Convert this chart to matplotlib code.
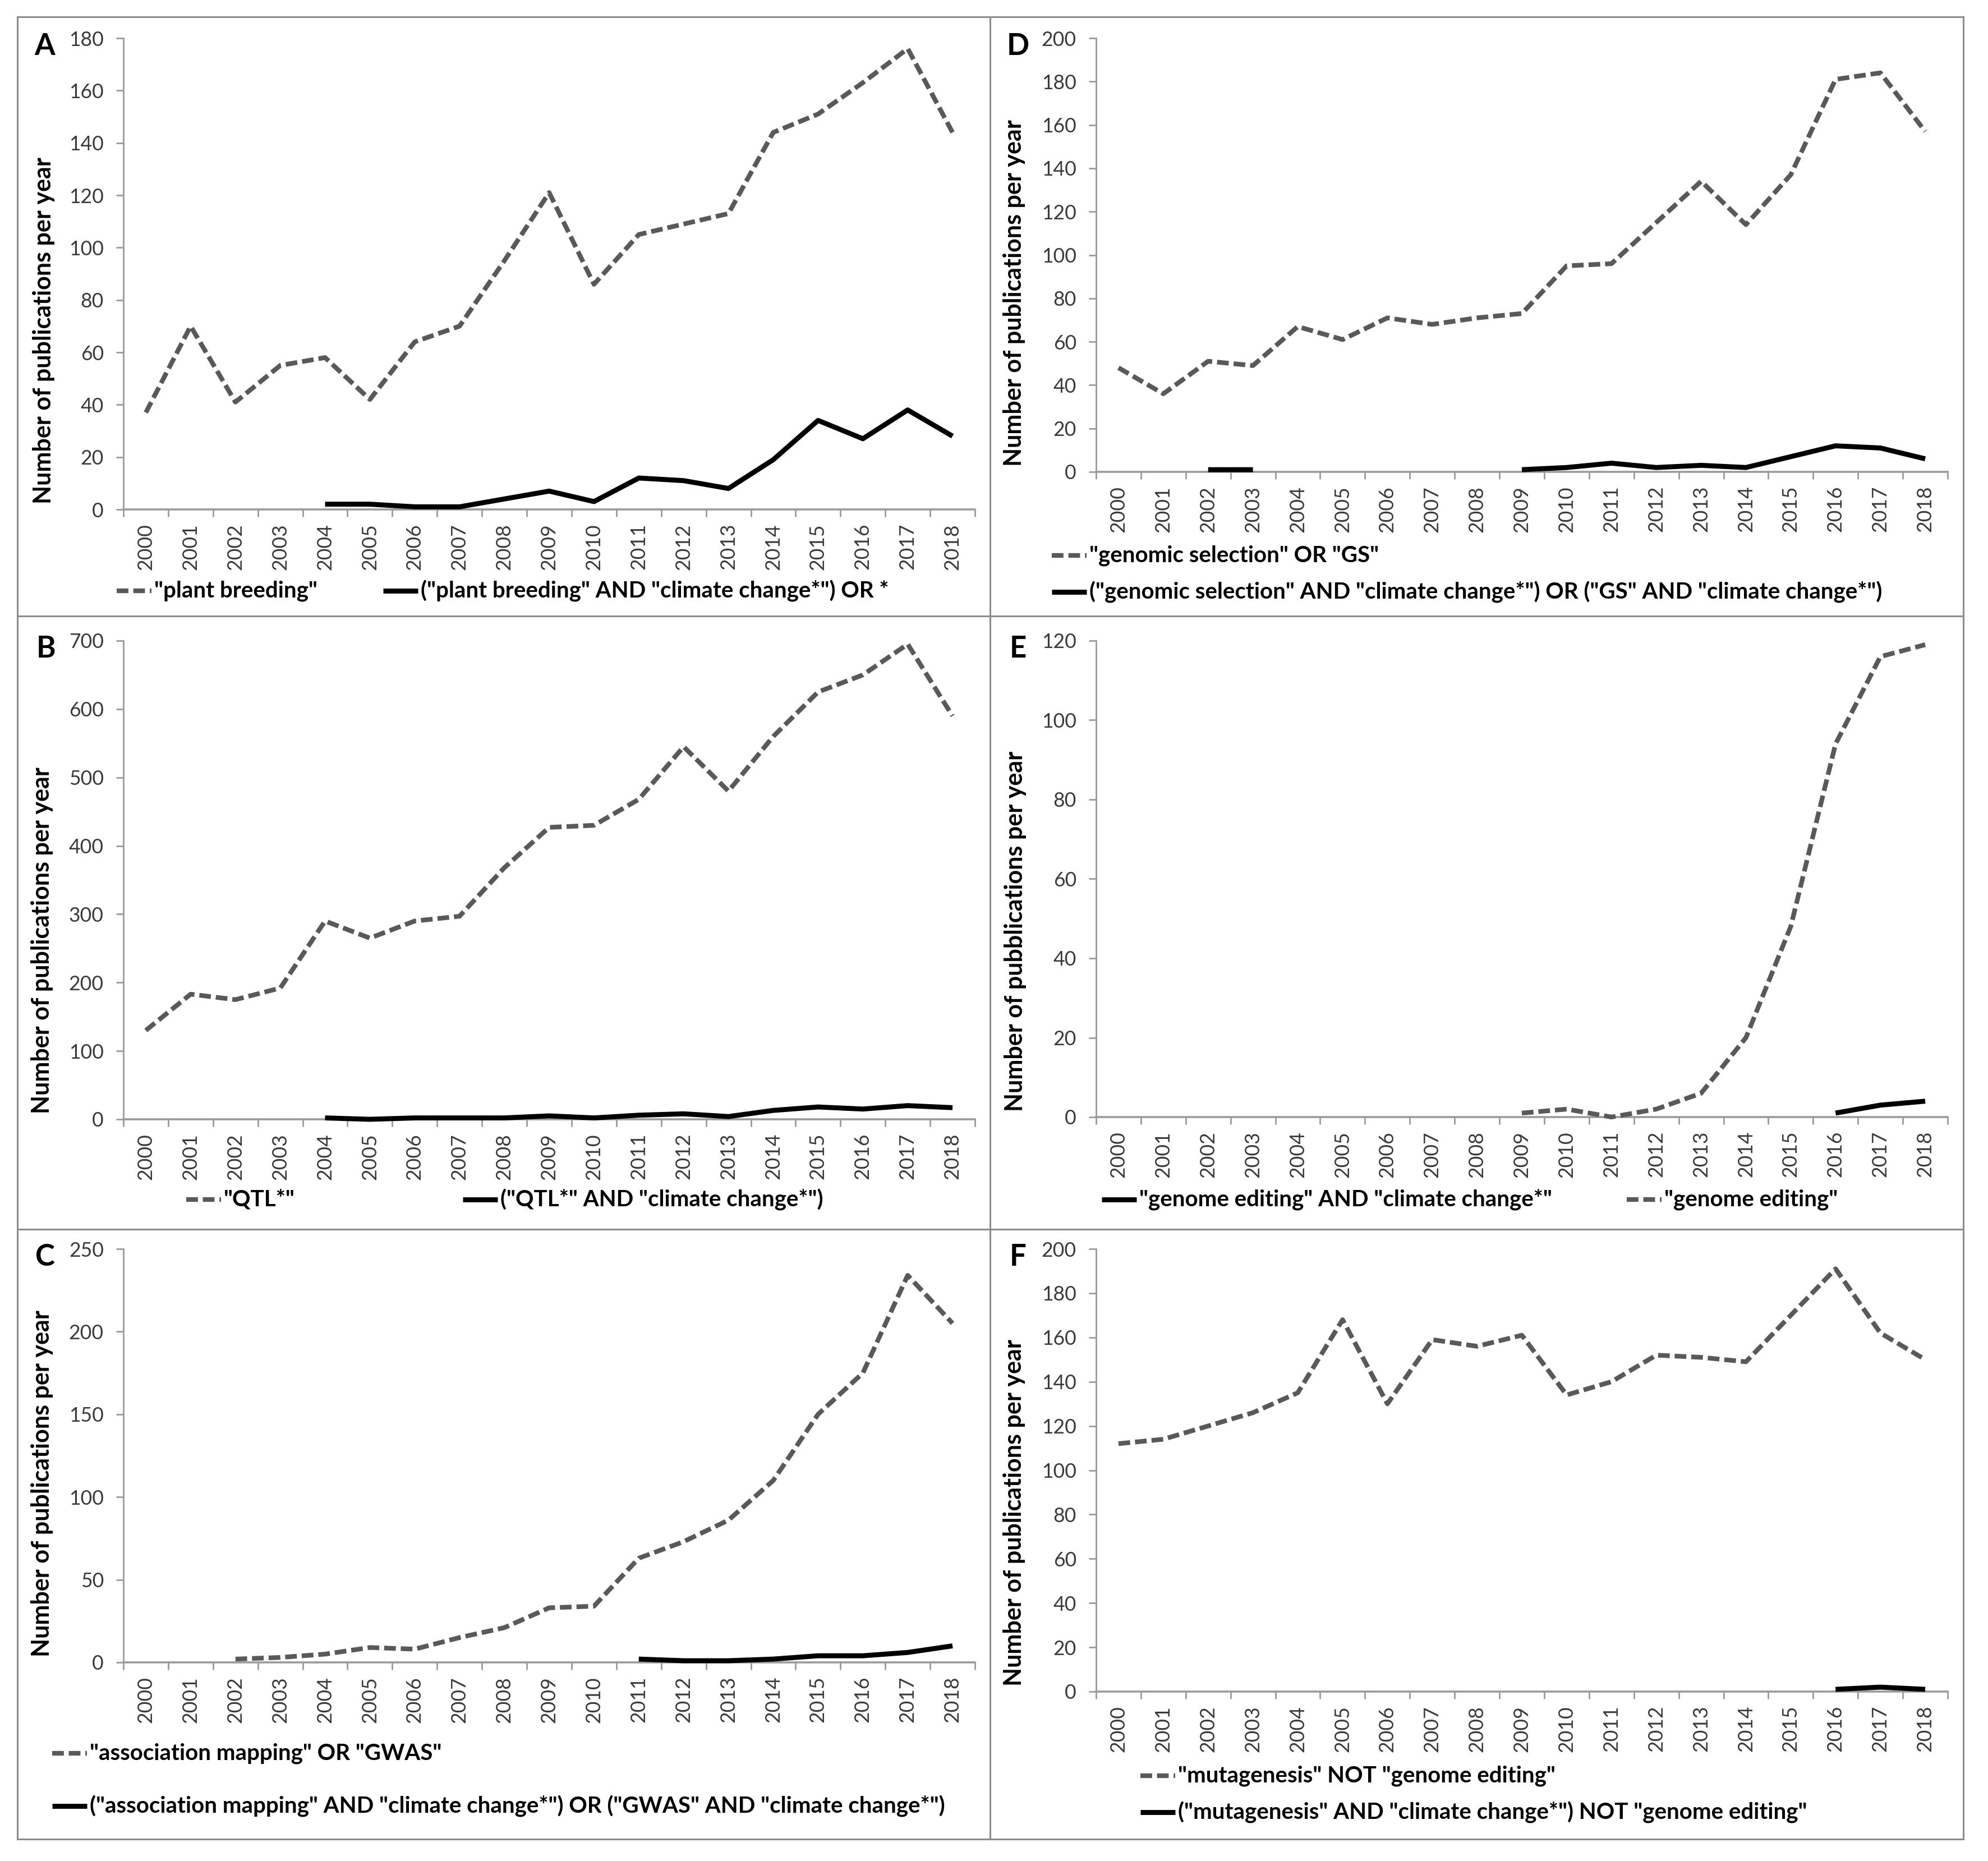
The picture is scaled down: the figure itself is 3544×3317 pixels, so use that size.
import numpy as np
import matplotlib
matplotlib.use("Agg")
import matplotlib.pyplot as plt
from matplotlib.lines import Line2D

plt.rcParams['font.family'] = ['Lato', 'DejaVu Sans']

nan = np.nan
years = ['2000', '2001', '2002', '2003', '2004', '2005', '2006', '2007', '2008', '2009',
         '2010', '2011', '2012', '2013', '2014', '2015', '2016', '2017', '2018']

# Panel A
A_all = [37, 70, 41, 55, 58, 42, 64, 70, 95, 121, 86, 105, 109, 113, 144, 151, 163, 176, 144]
A_cc = [nan, nan, nan, nan, 2, 2, 1, 1, 4, 7, 3, 12, 11, 8, 19, 34, 27, 38, 28]
A_labels = ['"plant breeding"', '("plant breeding" AND "climate change*") OR *']
# Panel B
B_all = [130, 183, 175, 192, 290, 265, 290, 297, 368, 427, 430, 468, 545, 480, 560, 625, 650, 695, 590]
B_cc = [nan, nan, nan, nan, 2, 0, 2, 2, 2, 5, 2, 6, 8, 4, 13, 18, 15, 20, 17]
B_labels = ['"QTL*"', '("QTL*" AND "climate change*")']
# Panel C
C_all = [nan, nan, 2, 3, 5, 9, 8, 15, 21, 33, 34, 63, 73, 86, 110, 150, 175, 234, 205]
C_cc = [nan, nan, nan, nan, nan, nan, nan, nan, nan, nan, nan, 2, 1, 1, 2, 4, 4, 6, 10]
C_labels = ['"association mapping" OR "GWAS"',
            '("association mapping" AND "climate change*") OR ("GWAS" AND "climate change*")']
# Panel D
D_all = [48, 36, 51, 49, 67, 61, 71, 68, 71, 73, 95, 96, 115, 134, 114, 137, 181, 184, 157]
D_cc = [nan, nan, 1, 1, nan, nan, nan, nan, nan, 1, 2, 4, 2, 3, 2, 7, 12, 11, 6]
D_labels = ['"genomic selection" OR "GS"',
            '("genomic selection" AND "climate change*") OR ("GS" AND "climate change*")']
# Panel E
E_all = [nan, nan, nan, nan, nan, nan, nan, nan, nan, 1, 2, 0, 2, 6, 20, 48, 94, 116, 119]
E_cc = [nan, nan, nan, nan, nan, nan, nan, nan, nan, nan, nan, nan, nan, nan, nan, nan, 1, 3, 4]
E_labels = ['"genome editing"', '"genome editing" AND "climate change*"']
# Panel F
F_all = [112, 114, 120, 126, 135, 168, 130, 159, 156, 161, 134, 140, 152, 151, 149, 170, 191, 162, 150]
F_cc = [nan, nan, nan, nan, nan, nan, nan, nan, nan, nan, nan, nan, nan, nan, nan, nan, 1, 2, 1]
F_labels = ['"mutagenesis" NOT "genome editing"',
            '("mutagenesis" AND "climate change*") NOT "genome editing"']

ylabel_std = 'Number of publications per year'
ylabel_E = 'Number of pubblications per year'

W, H, DPI = 3544, 3317, 200
fig = plt.figure(figsize=(W / DPI, H / DPI), dpi=DPI)


def fx(px):
    return px / W


def fy(py):
    return 1 - py / H


DASH_COLOR = '#595959'
DASH_LW = 3.0
SOLID_LW = 3.2
DASHES = (2.5, 1.05)
AXIS_COLOR = '#9a9a9a'
TICK_TXT = '#3a3a3a'

# borders
bcol = '#8c8c8c'
border_lines = [
    ([31, 3500], [30, 30]), ([31, 3500], [3278, 3278]),
    ([31, 31], [30, 3278]), ([3500, 3500], [30, 3278]),
    ([1765, 1765], [30, 3278]),
    ([31, 3500], [1098, 1098]), ([31, 3500], [2191, 2191]),
]
for xs, ys in border_lines:
    fig.add_artist(Line2D([fx(v) for v in xs], [fy(v) for v in ys], color=bcol, lw=1.1))

panels = [
    dict(letter='A', geo=(220, 1738, 68, 908), all=A_all, cc=A_cc, ymax=180, step=20,
         ylabel=ylabel_std, lx=80, yx=78,
         legend=[('dash', A_labels[0], 208, 1053), ('solid', A_labels[1], 683, 1053)]),
    dict(letter='B', geo=(220, 1738, 1142, 1995), all=B_all, cc=B_cc, ymax=700, step=100,
         ylabel=ylabel_std, lx=82, yx=75,
         legend=[('dash', B_labels[0], 332, 2138), ('solid', B_labels[1], 825, 2138)]),
    dict(letter='C', geo=(220, 1738, 2226, 2963), all=C_all, cc=C_cc, ymax=250, step=50,
         ylabel=ylabel_std, lx=80, yx=75,
         legend=[('dash', C_labels[0], 93, 3125), ('solid', C_labels[1], 93, 3219)]),
    dict(letter='D', geo=(1954, 3472, 68, 841), all=D_all, cc=D_cc, ymax=200, step=20,
         ylabel=ylabel_std, lx=1815, yx=1808,
         legend=[('dash', D_labels[0], 1875, 990), ('solid', D_labels[1], 1875, 1055)]),
    dict(letter='E', geo=(1954, 3472, 1142, 1991), all=E_all, cc=E_cc, ymax=120, step=20,
         ylabel=ylabel_E, lx=1815, yx=1810,
         legend=[('solid', E_labels[1], 1964, 2138), ('dash', E_labels[0], 2900, 2138)]),
    dict(letter='F', geo=(1954, 3472, 2226, 3015), all=F_all, cc=F_cc, ymax=200, step=20,
         ylabel=ylabel_std, lx=1815, yx=1808,
         legend=[('dash', F_labels[0], 2033, 3165), ('solid', F_labels[1], 2033, 3230)]),
]

HANDLE_LEN = 62
TEXT_GAP = 5
LEG_FS = 14.5
TICK_FS = 12.8

for p in panels:
    l, r, t, b = p['geo']
    ax = fig.add_axes([fx(l), fy(b), (r - l) / W, (b - t) / H])
    ax.plot(years, np.array(p['all'], dtype=float), color=DASH_COLOR, lw=DASH_LW,
            dashes=DASHES, dash_capstyle='butt', solid_joinstyle='round', zorder=4, clip_on=False)
    ax.plot(years, np.array(p['cc'], dtype=float), color='black', lw=SOLID_LW,
            solid_joinstyle='round', solid_capstyle='butt', zorder=5, clip_on=False)
    ax.set_xlim(-0.5, len(years) - 0.5)
    ax.set_ylim(0, p['ymax'])
    ax.set_yticks(np.arange(0, p['ymax'] + 1, p['step']))
    ax.set_xticks(range(len(years)))
    ax.set_xticklabels(years, rotation=90)
    ax.set_xticks(np.arange(-0.5, len(years), 1.0), minor=True)
    ax.tick_params(axis='x', which='major', length=0, pad=9, labelsize=TICK_FS, labelcolor=TICK_TXT)
    ax.tick_params(axis='x', which='minor', length=4.6, width=1.0, color=AXIS_COLOR, direction='out')
    ax.tick_params(axis='y', which='major', length=4.6, width=1.0, color=AXIS_COLOR,
                   direction='out', pad=8, labelsize=TICK_FS, labelcolor=TICK_TXT)
    for s in ['top', 'right']:
        ax.spines[s].set_visible(False)
    ax.spines['left'].set_color(AXIS_COLOR)
    ax.spines['left'].set_linewidth(1.0)
    ax.spines['bottom'].set_color(AXIS_COLOR)
    ax.spines['bottom'].set_linewidth(1.3)
    ax.set_facecolor('none')

    fig.text(fx(p['lx']), fy(t + 14), p['letter'], ha='center', va='center',
             fontsize=19, fontweight='bold', color='black')
    fig.text(fx(p['yx']), fy(b - 10), p['ylabel'], rotation=90, ha='center', va='bottom',
             fontsize=15.5, fontweight='bold', color='black')
    for kind, label, hx, hy in p['legend']:
        if kind == 'dash':
            ln = Line2D([fx(hx), fx(hx + HANDLE_LEN)], [fy(hy), fy(hy)], color=DASH_COLOR,
                        lw=DASH_LW, dashes=DASHES, dash_capstyle='butt')
        else:
            ln = Line2D([fx(hx), fx(hx + HANDLE_LEN)], [fy(hy), fy(hy)], color='black',
                        lw=SOLID_LW, solid_capstyle='butt')
        fig.add_artist(ln)
        fig.text(fx(hx + HANDLE_LEN + TEXT_GAP), fy(hy), label, ha='left', va='center',
                 fontsize=LEG_FS, fontweight='bold', color='black')

fig.savefig('out.png', dpi=DPI, facecolor='white')
